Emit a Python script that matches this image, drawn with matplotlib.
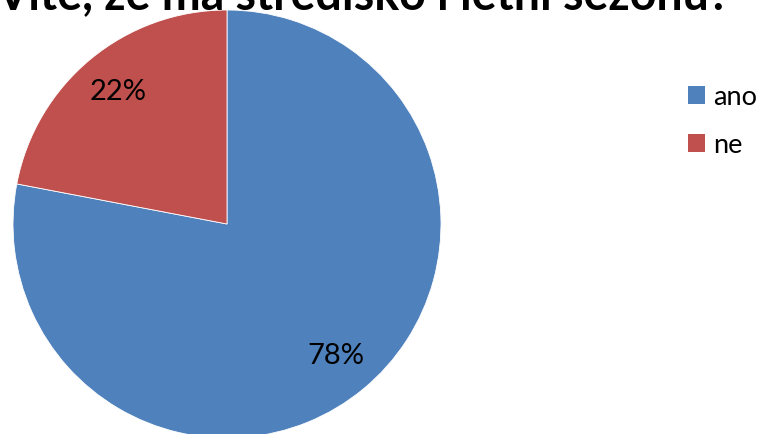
import matplotlib
matplotlib.use("Agg")
import matplotlib.pyplot as plt
from matplotlib.patches import Patch

title = "Víte, že má středisko i letní sezónu?"
labels = ["ano", "ne"]
values = [78, 22]
colors = ["#4F81BD", "#C0504D"]

plt.rcParams['font.family'] = ['Lato', 'DejaVu Sans']

W, H = 765, 434
fig = plt.figure(figsize=(W / 100, H / 100), dpi=100)

# pie centre and radius in pixels
cx, cy, r = 227, 224, 214
ax = fig.add_axes([(cx - r) / W, (H - cy - r) / H, 2 * r / W, 2 * r / H])
wedges, texts, autotexts = ax.pie(values, colors=colors, startangle=90, counterclock=False,
                                  autopct='%1.0f%%', pctdistance=0.8, radius=1,
                                  wedgeprops=dict(edgecolor='white', linewidth=0.6))
for t in autotexts:
    t.set_fontsize(21)
    t.set_color('black')
ax.set_xlim(-1, 1)
ax.set_ylim(-1, 1)
ax.set_aspect('auto')
ax.axis('off')

fig.text(-0.005, 1 - 9 / H, title, fontsize=33.5, fontweight='bold', ha='left', va='baseline')

handles = [Patch(facecolor=c, edgecolor='none') for c in colors]
fig.legend(handles, labels, loc='upper left', bbox_to_anchor=(677 / W, 1 - 74 / H),
           frameon=False, fontsize=19.5, handlelength=0.65, handleheight=0.65,
           handletextpad=0.3, labelspacing=0.85, borderaxespad=0)

fig.savefig("out.png", dpi=100)
